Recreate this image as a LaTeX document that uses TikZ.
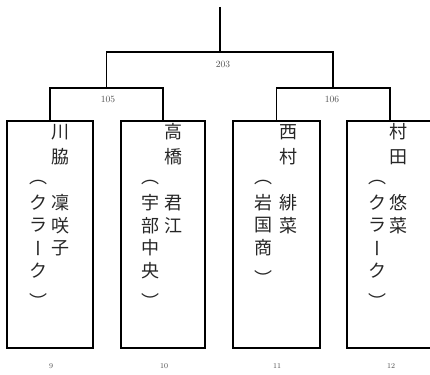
\documentclass[tikz,border=0pt]{standalone}
\usepackage{fontspec}
\usepackage{graphicx}
\newfontfamily\jp{Noto Sans CJK JP}
\newcommand\vchoon{\rotatebox[origin=c]{-90}{ー}}
\begin{document}
\begin{tikzpicture}[x=1pt,y=-1pt,line width=1.7pt,
  player/.style={draw,rectangle,minimum height=227pt,inner sep=0pt},
  ch/.style={font=\jp\fontsize{18}{18}\selectfont,inner sep=0pt,text=black!85},
  num/.style={font=\fontsize{9.5}{10}\selectfont,inner sep=0pt,text=black!70},
  seed/.style={font=\fontsize{7.5}{8}\selectfont,inner sep=0pt,text=black!70}]
\useasboundingbox (0,0) rectangle (430,374);
% boxes
\node[player,minimum width=86pt] (b1) at (50,234.5) {};
\node[player,minimum width=84pt] (b2) at (163,234.5) {};
\node[player,minimum width=87pt] (b3) at (276.5,234.5) {};
\node[player,minimum width=86pt] (b4) at (390,234.5) {};
% bracket
\coordinate (root) at (220,7);
\coordinate (m203) at (220,52);
\coordinate (m105) at (106.5,88);
\coordinate (m106) at (333.25,88);
\draw (root) -- (m203);
\draw (m105) -- (m105|-m203) -- (m106|-m203) -- (m106);
\draw (b1.north) -- (b1.north|-m105) -- (b2.north|-m105) -- (b2.north);
\draw (b3.north) -- (b3.north|-m106) -- (b4.north|-m106) -- (b4.north);
% match labels
\node[num] (l203) at (223,64) {203};
\node[num] (l105) at (108,99) {105};
\node[num] (l106) at (332,99) {106};
% seeds
\node[seed] (s9) at (51,366) {9};
\node[seed] (s10) at (164,366) {10};
\node[seed] (s11) at (277,366) {11};
\node[seed] (s12) at (391,366) {12};
% box 1
\node[ch] (a1) at (60,132) {川};
\node[ch] (a2) at (60,157) {脇};
\foreach \c [count=\i from 0] in {凜,咲,子}
  \node[ch] (a3\i) at (60,203+22.5*\i) {\c};
\node[ch] (a4p) at (38,182) {︵};
\node[ch] (a40) at (38,203) {ク};
\node[ch] (a41) at (38,225.5) {ラ};
\node[ch] (a42) at (35.5,248) {\vchoon};
\node[ch] (a43) at (38,270.5) {ク};
\node[ch] (a4q) at (38,300.5) {︶};
% box 2
\node[ch] (c1) at (173,132) {高};
\node[ch] (c2) at (173,157) {橋};
\foreach \c [count=\i from 0] in {君,江}
  \node[ch] (c3\i) at (173,203+22.5*\i) {\c};
\node[ch] (c4p) at (150,182) {︵};
\foreach \c [count=\i from 0] in {宇,部,中,央}
  \node[ch] (c4\i) at (150,203+22.5*\i) {\c};
\node[ch] (c4q) at (150,300.5) {︶};
% box 3
\node[ch] (d1) at (288,132) {西};
\node[ch] (d2) at (288,157) {村};
\foreach \c [count=\i from 0] in {緋,菜}
  \node[ch] (d3\i) at (288,203+22.5*\i) {\c};
\node[ch] (d4p) at (263,182) {︵};
\foreach \c [count=\i from 0] in {岩,国,商}
  \node[ch] (d4\i) at (263,203+22.5*\i) {\c};
\node[ch] (d4q) at (263,278) {︶};
% box 4
\node[ch] (e1) at (398,132) {村};
\node[ch] (e2) at (398,157) {田};
\foreach \c [count=\i from 0] in {悠,菜}
  \node[ch] (e3\i) at (398,203+22.5*\i) {\c};
\node[ch] (e4p) at (377,182) {︵};
\node[ch] (e40) at (377,203) {ク};
\node[ch] (e41) at (377,225.5) {ラ};
\node[ch] (e42) at (374.5,248) {\vchoon};
\node[ch] (e43) at (377,270.5) {ク};
\node[ch] (e4q) at (377,300.5) {︶};
\end{tikzpicture}
\end{document}
